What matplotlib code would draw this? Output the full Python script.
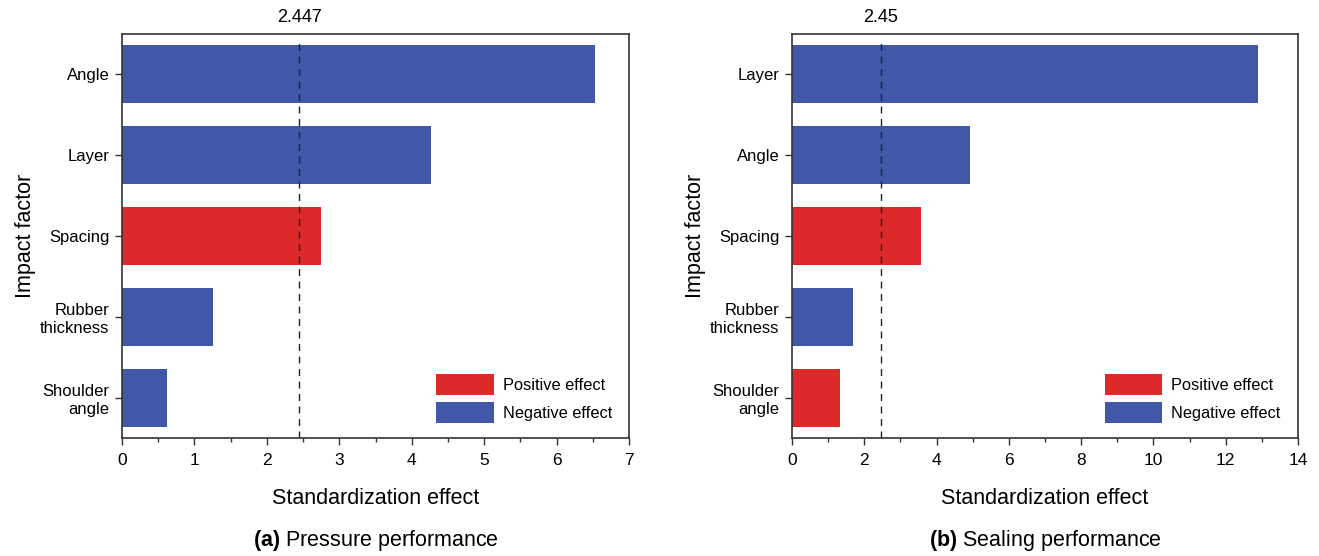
import matplotlib
matplotlib.use("Agg")
import matplotlib.pyplot as plt
from matplotlib.patches import Patch
from matplotlib.ticker import MultipleLocator

plt.rcParams['font.family'] = ['Liberation Sans', 'DejaVu Sans']
plt.rcParams['mathtext.fontset'] = 'custom'
plt.rcParams['mathtext.rm'] = 'Liberation Sans'
plt.rcParams['mathtext.bf'] = 'Liberation Sans:bold'

# Panel (a) - pressure performance
factors_a = ["Angle", "Layer", "Spacing", "Rubber\nthickness", "Shoulder\nangle"]
effects_a = [6.53, 4.27, 2.74, 1.26, 0.62]
signs_a = ["neg", "neg", "pos", "neg", "neg"]
crit_a = 2.447

# Panel (b) - sealing performance
factors_b = ["Layer", "Angle", "Spacing", "Rubber\nthickness", "Shoulder\nangle"]
effects_b = [12.9, 4.93, 3.57, 1.69, 1.33]
signs_b = ["neg", "neg", "pos", "neg", "pos"]
crit_b = 2.45

RED = "#DC2A2A"
BLUE = "#4058A7"
SPINE = "#333333"

fig = plt.figure(figsize=(13.19, 5.56), dpi=100)
ax_a = fig.add_axes([0.0925, 0.212, 0.3845, 0.727])
ax_b = fig.add_axes([0.6005, 0.212, 0.3835, 0.727])


def draw_panel(ax, factors, effects, signs, crit, crit_label, xmax, major, minor, caption):
    pos = list(range(len(factors)))
    colors = [RED if s == "pos" else BLUE for s in signs]
    ax.barh(pos, effects, height=0.72, color=colors)
    ax.set_ylim(4.5, -0.5)
    ax.set_xlim(0, xmax)
    ax.set_yticks(pos)
    ax.set_yticklabels(factors, fontsize=12, linespacing=1.2)
    ax.xaxis.set_major_locator(MultipleLocator(major))
    ax.xaxis.set_minor_locator(MultipleLocator(minor))
    ax.tick_params(axis='x', labelsize=12.5, direction='out', length=5, width=1,
                   colors=SPINE, labelcolor='black', pad=6)
    ax.tick_params(axis='x', which='minor', length=3, width=1, colors=SPINE)
    ax.tick_params(axis='y', direction='out', length=5, width=1, colors=SPINE,
                   labelcolor='black', pad=4)
    for sp in ax.spines.values():
        sp.set_color(SPINE)
        sp.set_linewidth(1.2)

    # critical value line
    ax.axvline(crit, ymin=0, ymax=0.99, color='#222222', linestyle=(0, (5, 4)), linewidth=1)
    ax.text(crit, -0.6, crit_label, ha='center', va='bottom', fontsize=13,
            transform=ax.transData, clip_on=False)

    ax.set_xlabel("Standardization effect", fontsize=15.5, labelpad=14)
    ax.set_ylabel("Impact factor", fontsize=15.5, labelpad=3)

    handles = [Patch(facecolor=RED, label="Positive effect"),
               Patch(facecolor=BLUE, label="Negative effect")]
    ax.legend(handles=handles, loc='lower right', frameon=False, fontsize=11.8,
              handlelength=3.5, handleheight=1.6, labelspacing=0.42,
              handletextpad=0.55, bbox_to_anchor=(0.995, 0.0))

    bbox = ax.get_position()
    fig.text((bbox.x0 + bbox.x1) / 2, 0.027, caption, ha='center', va='center',
             fontsize=15.5)


draw_panel(ax_a, factors_a, effects_a, signs_a, crit_a, "2.447", 7, 1, 0.5,
           r"$\bf{(a)}$ Pressure performance")
draw_panel(ax_b, factors_b, effects_b, signs_b, crit_b, "2.45", 14, 2, 1,
           r"$\bf{(b)}$ Sealing performance")

fig.savefig("out.png", dpi=100)
